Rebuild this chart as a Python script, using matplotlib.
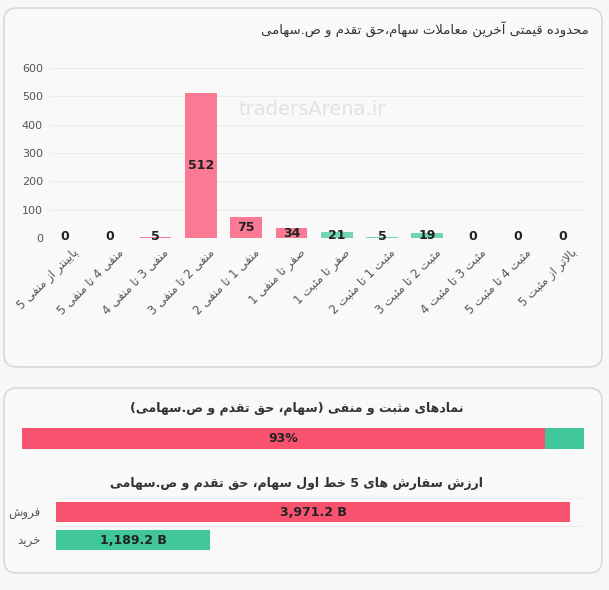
import re
import matplotlib
matplotlib.use('Agg')
from matplotlib import pyplot as plt
from matplotlib.patches import FancyBboxPatch
import matplotlib.transforms as mtransforms

W, H = 609, 590

title_top = 'محدوده قیمتی آخرین معاملات سهام،حق تقدم و ص.سهامی'
categories = ['پایینتر از منفی 5', 'منفی 4 تا منفی 5', 'منفی 3 تا منفی 4',
              'منفی 2 تا منفی 3', 'منفی 1 تا منفی 2', 'صفر تا منفی 1',
              'صفر تا مثبت 1', 'مثبت 1 تا مثبت 2', 'مثبت 2 تا مثبت 3',
              'مثبت 3 تا مثبت 4', 'مثبت 4 تا مثبت 5', 'بالاتر از مثبت 5']
counts = [0, 0, 5, 512, 75, 34, 21, 5, 19, 0, 0, 0]
is_negative = [True] * 6 + [False] * 6
yticks = [0, 100, 200, 300, 400, 500, 600]

title_share = 'نمادهای مثبت و منفی (سهام، حق تقدم و ص.سهامی)'
negative_share = 93

title_orders = 'ارزش سفارش های 5 خط اول سهام، حق تقدم و ص.سهامی'
order_labels = ['فروش', 'خرید']
order_values = [3971.2, 1189.2]

PINK_LIGHT = '#fb7a93'
GREEN_LIGHT = '#72d5b2'
PINK = '#f8526f'
GREEN = '#40c69b'

# --- minimal Persian shaping (matplotlib has no bidi / joining) ---
DUAL = {'ب': 0xFE8F, 'پ': 0xFB56, 'ت': 0xFE95, 'ث': 0xFE99, 'ح': 0xFEA1,
        'خ': 0xFEA5, 'س': 0xFEB1, 'ش': 0xFEB5, 'ص': 0xFEB9, 'ط': 0xFEC1,
        'ع': 0xFEC9, 'ف': 0xFED1, 'ق': 0xFED5, 'ل': 0xFEDD, 'م': 0xFEE1,
        'ن': 0xFEE5, 'ه': 0xFEE9, 'ی': 0xFBFC}
RIGHT = {'ا': 0xFE8D, 'آ': 0xFE81, 'د': 0xFEA9, 'ر': 0xFEAD, 'ز': 0xFEAF,
         'و': 0xFEED, 'لا': 0xFEFB, 'لآ': 0xFEF5}


def shape(text):
    tokens = []
    i = 0
    while i < len(text):
        if text[i] == 'ل' and i + 1 < len(text) and text[i + 1] in 'اآ':
            tokens.append(text[i:i + 2])
            i += 2
        else:
            tokens.append(text[i])
            i += 1
    out = []
    for k, t in enumerate(tokens):
        if t not in DUAL and t not in RIGHT:
            out.append(t)
            continue
        prev = tokens[k - 1] if k > 0 else None
        nxt = tokens[k + 1] if k + 1 < len(tokens) else None
        jp = prev in DUAL
        jn = t in DUAL and (nxt in DUAL or nxt in RIGHT)
        if t in DUAL:
            base = DUAL[t]
            off = 3 if (jp and jn) else 1 if jp else 2 if jn else 0
        else:
            base = RIGHT[t]
            off = 1 if jp else 0
        out.append(chr(base + off))
    return ''.join(out)


def rtl(text):
    s = shape(text)[::-1]
    s = s.translate(str.maketrans('()', ')('))
    return re.sub(r'[0-9A-Za-z.,%]{2,}', lambda m: m.group(0)[::-1], s)


def px_rect(x0, y0, x1, y1):
    return [x0 / W, 1 - y1 / H, (x1 - x0) / W, (y1 - y0) / H]


fig = plt.figure(figsize=(W / 100, H / 100), dpi=100, facecolor='#f7f7f7')

# cards
bg = fig.add_axes([0, 0, 1, 1])
bg.set_xlim(0, W)
bg.set_ylim(H, 0)
bg.axis('off')
for y0, y1 in [(8, 367), (388, 573)]:
    bg.add_patch(FancyBboxPatch((4, y0), 598, y1 - y0,
                                boxstyle='round,pad=0,rounding_size=13',
                                fc='#f9f9f9', ec='#d6d6d6', lw=1.1))

fig.text(589 / W, 1 - 30 / H, rtl(title_top), ha='right', va='center',
         fontsize=9.5, color='#333333')
fig.text(312 / W, 1 - 110 / H, 'tradersArena.ir', ha='center', va='center',
         fontsize=14, color='#e2e2e2')

# price range histogram
ax1 = fig.add_axes(px_rect(50, 68, 584, 238))
ax1.set_facecolor('none')
x = list(range(len(counts)))
bar_colors = [PINK_LIGHT if n else GREEN_LIGHT for n in is_negative]
ax1.bar(x, counts, width=0.7, color=bar_colors, zorder=2)
for xi, v in zip(x, counts):
    ax1.text(xi, max(v / 2, 4), str(v), ha='center', va='center',
             fontsize=9, fontweight='bold', color='#222222', zorder=3)
ax1.set_xlim(-0.33, 11.46)
ax1.set_ylim(0, 600)
ax1.set_yticks(yticks)
ax1.grid(axis='y', color='#ebebeb', lw=0.8)
ax1.set_axisbelow(True)
for sp in ax1.spines.values():
    sp.set_visible(False)
ax1.tick_params(axis='y', length=0, labelsize=8, labelcolor='#555555', pad=5)
ax1.set_xticks(x)
ax1.set_xticklabels([rtl(c) for c in categories], rotation=45, ha='right',
                    va='top', rotation_mode='anchor', fontsize=8.5, color='#555555')
ax1.tick_params(axis='x', length=0, pad=6)
shift = mtransforms.ScaledTranslation(7 / 100, 0, fig.dpi_scale_trans)
for lab in ax1.get_xticklabels():
    lab.set_transform(lab.get_transform() + shift)

# positive / negative share
fig.text(297 / W, 1 - 408 / H, rtl(title_share), ha='center', va='center',
         fontsize=9, fontweight='bold', color='#333333')
ax2 = fig.add_axes(px_rect(22, 428, 584, 449))
ax2.barh(0, negative_share, height=1, color=PINK)
ax2.barh(0, 100 - negative_share, left=negative_share, height=1, color=GREEN)
ax2.text(negative_share / 2, 0, f'{negative_share}%', ha='center', va='center',
         fontsize=9, fontweight='bold', color='#222222')
ax2.set_xlim(0, 100)
ax2.set_ylim(-0.5, 0.5)
ax2.axis('off')

# order values
fig.text(297 / W, 1 - 483 / H, rtl(title_orders), ha='center', va='center',
         fontsize=9, fontweight='bold', color='#333333')
ax3 = fig.add_axes(px_rect(56, 498, 584, 554))
ax3.set_facecolor('none')
ax3.barh([0, 1], order_values, height=0.68, color=[PINK, GREEN], zorder=2)
for yi, v in enumerate(order_values):
    ax3.text(v / 2, yi, f'{v:,.1f} B', ha='center', va='center',
             fontsize=9, fontweight='bold', color='#222222', zorder=3)
ax3.set_xlim(0, max(order_values) * 528 / 514)
ax3.set_ylim(1.5, -0.5)
ax3.set_yticks([0, 1])
ax3.set_yticklabels([rtl(s) for s in order_labels], fontsize=8.5, color='#555555')
ax3.set_yticks([-0.5, 0.5, 1.5], minor=True)
ax3.grid(axis='y', which='minor', color='#eeeeee', lw=0.8)
ax3.set_xticks([])
ax3.tick_params(axis='y', which='both', length=0, pad=11)
for sp in ax3.spines.values():
    sp.set_visible(False)

fig.savefig('out.png', dpi=100, facecolor=fig.get_facecolor())
